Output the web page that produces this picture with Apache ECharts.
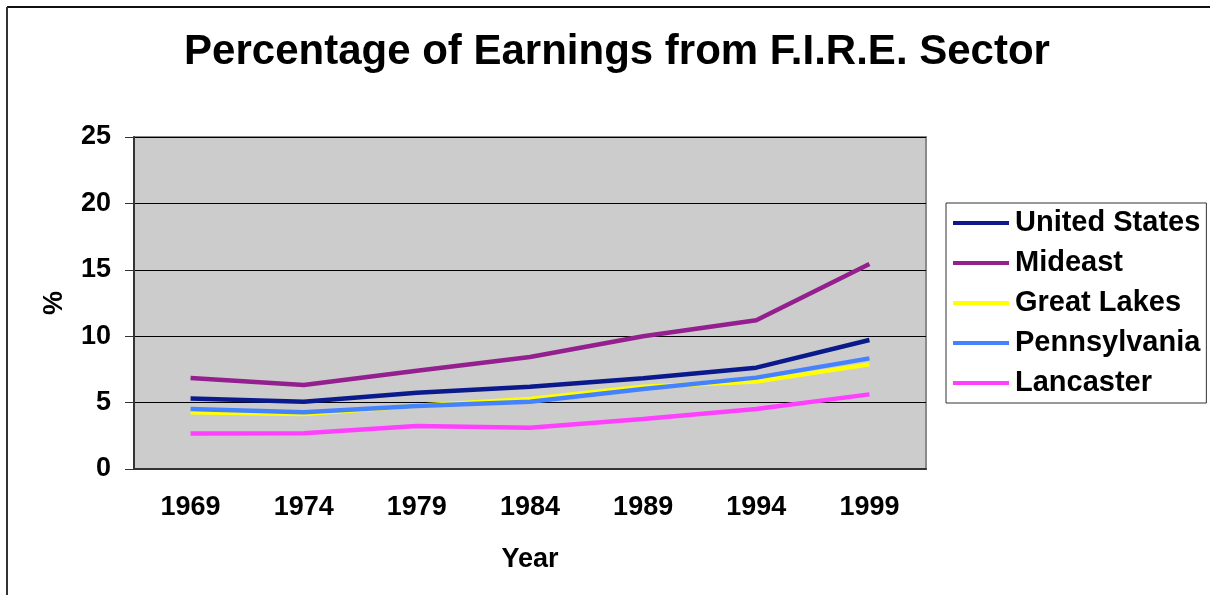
<!DOCTYPE html>
<html>
<head>
<meta charset="utf-8">
<script src="https://cdn.jsdelivr.net/npm/echarts@6/dist/echarts.min.js"></script>
<style>
html,body{margin:0;padding:0;background:#fff;}
#chart{width:1210px;height:595px;}
</style>
</head>
<body>
<div id="chart"></div>
<script>
var years = ['1969','1974','1979','1984','1989','1994','1999'];
var unitedStates = [5.3, 5.07, 5.75, 6.2, 6.83, 7.63, 9.71];
var mideast = [6.85, 6.33, 7.4, 8.43, 10.0, 11.2, 15.44];
var greatLakes = [4.27, 4.14, 4.76, 5.27, 6.2, 6.58, 7.88];
var pennsylvania = [4.52, 4.27, 4.74, 5.07, 6.02, 6.88, 8.33];
var lancaster = [2.68, 2.7, 3.24, 3.11, 3.77, 4.52, 5.62];
var yTicks = [0, 5, 10, 15, 20, 25];

var FONT = '"Liberation Sans", Arial, sans-serif';
var chart = echarts.init(document.getElementById('chart'), null, {renderer: 'canvas'});

function mk(name, data, color) {
  return {
    name: name, type: 'line', data: data,
    symbol: 'none', showSymbol: false,
    lineStyle: {color: color, width: 4.5},
    itemStyle: {color: color},
    emphasis: {disabled: true},
    animation: false
  };
}

var option = {
  animation: false,
  backgroundColor: '#ffffff',
  textStyle: {fontFamily: FONT},
  title: {
    text: 'Percentage of Earnings from F.I.R.E. Sector',
    left: 612, textAlign: 'center', top: 26,
    textStyle: {fontFamily: FONT, fontWeight: 'bold', fontSize: 42, color: '#000'}
  },
  graphic: [
    {type: 'line', shape: {x1: 7, y1: 7, x2: 1210, y2: 7}, style: {stroke: '#111', lineWidth: 2}, silent: true},
    {type: 'line', shape: {x1: 7, y1: 7, x2: 7, y2: 595}, style: {stroke: '#333', lineWidth: 2}, silent: true}
  ],
  legend: {
    orient: 'vertical',
    left: 946, top: 203,
    padding: [5, 6, 5, 7],
    itemGap: 10,
    itemWidth: 56, itemHeight: 4,
    icon: 'rect',
    borderColor: '#333', borderWidth: 1,
    backgroundColor: '#fff',
    textStyle: {fontFamily: FONT, fontWeight: 'bold', fontSize: 29, color: '#000', lineHeight: 30, padding: [0,0,0,1]},
    data: ['United States','Mideast','Great Lakes','Pennsylvania','Lancaster']
  },
  grid: {
    left: 134, top: 137, width: 792, height: 332,
    show: true, backgroundColor: '#cccccc', borderColor: '#8a8a8a', borderWidth: 2,
    containLabel: false
  },
  xAxis: {
    type: 'category', data: years, boundaryGap: true,
    name: 'Year', nameLocation: 'middle', nameGap: 77,
    nameTextStyle: {fontFamily: FONT, fontWeight: 'bold', fontSize: 27, color: '#000'},
    axisLine: {show: true, lineStyle: {color: '#333', width: 2}},
    axisTick: {show: false},
    axisLabel: {fontFamily: FONT, fontWeight: 'bold', fontSize: 27, color: '#000', margin: 25},
    splitLine: {show: false}
  },
  yAxis: {
    type: 'value', min: 0, max: 25, interval: 5,
    name: '%', nameLocation: 'middle', nameGap: 66, nameRotate: 90,
    nameTextStyle: {fontFamily: FONT, fontWeight: 'bold', fontSize: 27, color: '#000'},
    axisLine: {show: true, lineStyle: {color: '#333', width: 2}},
    axisTick: {show: true, inside: false, length: 9, lineStyle: {color: '#333', width: 1}},
    axisLabel: {fontFamily: FONT, fontWeight: 'bold', fontSize: 27, color: '#000', margin: 23,
      formatter: function (v) { return yTicks.indexOf(v) >= 0 ? String(v) : ''; }},
    splitLine: {show: true, lineStyle: {color: '#000', width: 1}}
  },
  series: [
    mk('United States', unitedStates, '#0a1a8c'),
    mk('Mideast', mideast, '#93208e'),
    mk('Great Lakes', greatLakes, '#ffff00'),
    mk('Pennsylvania', pennsylvania, '#4482ff'),
    mk('Lancaster', lancaster, '#ff40ff')
  ]
};
option.series[2].z = 2;
option.series[3].z = 3;
chart.setOption(option);
</script>
</body>
</html>
